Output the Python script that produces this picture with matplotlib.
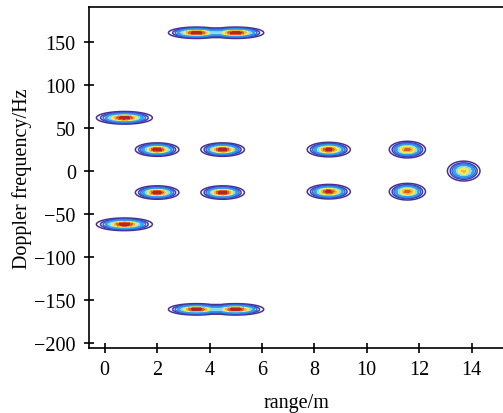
import matplotlib
matplotlib.use("Agg")
import matplotlib.pyplot as plt
import numpy as np

# target peaks
target_range = [0.75, 0.75, 2.0, 2.0, 4.5, 4.5, 3.5, 5.0, 3.5, 5.0, 8.55, 8.55, 11.55, 11.55, 13.7]
target_doppler = [62, -62, 25, -25, 25, -25, 161, 161, -161, -161, 25, -24, 25, -24, 0]
target_amp = [1.0, 1.0, 1.0, 1.0, 1.0, 1.0, 1.0, 1.0, 1.0, 1.0, 0.95, 0.95, 0.85, 0.85, 0.7]
target_sx = [0.45, 0.45, 0.35, 0.35, 0.35, 0.35, 0.45, 0.45, 0.45, 0.45, 0.35, 0.35, 0.3, 0.3, 0.28]
target_sy = [3.1, 3.1, 3.3, 3.3, 3.3, 3.3, 2.8, 2.8, 2.8, 2.8, 3.6, 3.6, 4.2, 4.2, 5.2]

x_ticks = [0, 2, 4, 6, 8, 10, 12, 14]
y_ticks = [-200, -150, -100, -50, 0, 50, 100, 150]

plt.rcParams["font.family"] = ["Liberation Serif", "DejaVu Serif"]
plt.rcParams["font.size"] = 14.5

xr = np.linspace(-0.6, 15.2, 800)
yd = np.linspace(-206, 191, 1000)
X, Y = np.meshgrid(xr, yd)
Z = np.zeros_like(X)
for r, d, a, sx, sy in zip(target_range, target_doppler, target_amp, target_sx, target_sy):
    Z = np.maximum(Z, a * np.exp(-0.5 * ((X - r) / sx) ** 2 - 0.5 * ((Y - d) / sy) ** 2))
# bridge between the paired peaks at +-161 Hz
for d in (161, -161):
    Z = np.maximum(Z, 0.45 * np.exp(-0.5 * (np.clip(np.abs(X - 4.25) - 0.75, 0, None) / 0.45) ** 2
                                    - 0.5 * ((Y - d) / 2.8) ** 2))

fig = plt.figure(figsize=(5.03, 4.14), dpi=100)
ax = fig.add_axes([89 / 503, 65 / 414, 1 - 89 / 503, (349 - 8) / 414])

fill_levels = [0.3, 0.42, 0.55, 0.68, 0.8, 0.9, 1.01]
fill_colors = ["#38b4ec", "#8fdcf2", "#f2ea5a", "#f5b640", "#e65a25", "#b0281e"]
ax.contourf(X, Y, Z, levels=fill_levels, colors=fill_colors)
line_levels = [0.06, 0.13, 0.2, 0.28]
line_colors = ["#4a2f93", "#3a3cb8", "#3168d6", "#2f9ae8"]
ax.contour(X, Y, Z, levels=line_levels, colors=line_colors, linewidths=1.1)

ax.set_xlim(-0.6, 15.2)
ax.set_ylim(-206, 191)
ax.set_xticks(x_ticks)
ax.set_yticks(y_ticks)
ax.set_xticklabels([str(t).replace("-", "\u2212") for t in x_ticks])
ax.set_yticklabels([str(t).replace("-", "\u2212") for t in y_ticks])
ax.tick_params(direction="inout", length=7, width=1.2)
ax.tick_params(axis="x", pad=5)
ax.tick_params(axis="y", pad=6)
for s in ax.spines.values():
    s.set_linewidth(1.2)
ax.spines["right"].set_visible(False)
ax.set_xlabel("range/m", labelpad=10)
ax.set_ylabel("Doppler frequency/Hz", labelpad=2)

fig.savefig("out.png", dpi=100)
